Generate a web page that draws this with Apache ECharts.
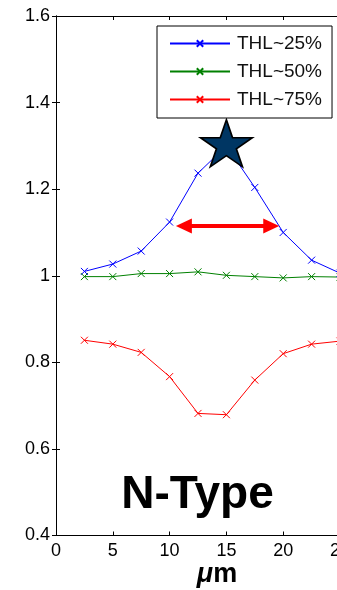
<!DOCTYPE html>
<html>
<head>
<meta charset="utf-8">
<script src="https://cdn.jsdelivr.net/npm/echarts@6/dist/echarts.min.js"></script>
<style>
  html, body { margin: 0; padding: 0; background: #fff; }
  #chart { width: 337px; height: 590px; }
</style>
</head>
<body>
<div id="chart"></div>
<script>
// Pixel positions across the detector (µm)
const positions = [2.5, 5, 7.5, 10, 12.5, 15, 17.5, 20, 22.5, 25];

// Normalised response for three threshold settings
const thl25 = [1.010, 1.027, 1.057, 1.124, 1.237, 1.300, 1.204, 1.100, 1.036, 1.006];
const thl50 = [0.998, 0.998, 1.005, 1.005, 1.009, 1.001, 0.998, 0.995, 0.998, 0.997];
const thl75 = [0.851, 0.842, 0.823, 0.767, 0.682, 0.679, 0.759, 0.820, 0.842, 0.849];

const seriesNames = ['THL~25%', 'THL~50%', 'THL~75%'];
const seriesColors = ['#0000ff', '#008000', '#ff0000'];

// Peak marker and width arrow (data coordinates)
const peakPoint = [15, 1.30];
const arrowTips = [10.55, 19.65];
const arrowLevel = 1.115;

// Axis ranges / ticks
const xMin = 0, xMax = 25, xStep = 5;
const yMin = 0.4, yMax = 1.6, yStep = 0.2;

const FONT = '"Liberation Sans", Arial, Helvetica, sans-serif';
const CROSS = 'path://M0,0L10,10M10,0L0,10';
const STAR = 'path://M50,0L61.23,34.55L97.55,34.55L68.17,55.9L79.39,90.45L50,69.1L20.61,90.45L31.83,55.9L2.45,34.55L38.77,34.55Z';

const gridLeft = 56, gridTop = 16, gridWidth = 284, gridHeight = 519.5;
const headLen = 16;
const inset = (headLen / 2) / (gridWidth / (xMax - xMin));

function lineSeries(name, values, color) {
  return {
    name: name,
    type: 'line',
    data: positions.map((x, i) => [x, values[i]]),
    symbol: CROSS,
    symbolSize: 7,
    showSymbol: true,
    lineStyle: { color: color, width: 1 },
    itemStyle: { color: color, borderColor: color, borderWidth: 1 },
    emphasis: { disabled: true },
    animation: false,
    z: 3
  };
}

const chart = echarts.init(document.getElementById('chart'), null, { renderer: 'canvas' });

const axisLine = { show: true, lineStyle: { color: '#000', width: 1 } };
const axisTick = { show: true, inside: true, length: 4, lineStyle: { color: '#000', width: 1 } };

chart.setOption({
  animation: false,
  backgroundColor: '#fff',
  grid: {
    left: gridLeft, top: gridTop, width: gridWidth, height: gridHeight,
    containLabel: false, outerBoundsMode: 'none'
  },
  xAxis: [
    {
      type: 'value', min: xMin, max: xMax, interval: xStep, position: 'bottom',
      axisLine: axisLine, axisTick: axisTick, splitLine: { show: false },
      axisLabel: { color: '#000', fontSize: 18, fontFamily: FONT, margin: 7 }
    },
    {
      type: 'value', min: xMin, max: xMax, interval: xStep, position: 'top',
      axisLine: axisLine, axisTick: axisTick, splitLine: { show: false },
      axisLabel: { show: false }
    }
  ],
  yAxis: [
    {
      type: 'value', min: yMin, max: yMax, interval: yStep, position: 'left',
      axisLine: axisLine, axisTick: axisTick, splitLine: { show: false },
      axisLabel: {
        color: '#000', fontSize: 18, fontFamily: FONT, margin: 6,
        formatter: v => String(+v.toFixed(1))
      }
    },
    {
      type: 'value', min: yMin, max: yMax, interval: yStep, position: 'right',
      axisLine: axisLine, axisTick: axisTick, splitLine: { show: false },
      axisLabel: { show: false }
    }
  ],
  legend: {
    data: seriesNames,
    orient: 'vertical',
    left: 157, top: 26,
    padding: [8, 10, 9, 12],
    itemWidth: 60, itemHeight: 8, itemGap: 9,
    backgroundColor: '#fff', borderColor: '#000', borderWidth: 1, borderRadius: 0,
    selectedMode: false,
    textStyle: { color: '#111', fontSize: 19, fontFamily: FONT, padding: [0, 0, 0, 2] },
    z: 10
  },
  series: [
    lineSeries(seriesNames[0], thl25, seriesColors[0]),
    lineSeries(seriesNames[1], thl50, seriesColors[1]),
    lineSeries(seriesNames[2], thl75, seriesColors[2]),
    {
      name: 'peak',
      type: 'scatter',
      data: [peakPoint],
      symbol: STAR,
      symbolSize: [52, 47],
      symbolOffset: [0, -2.6],
      itemStyle: { color: '#003663', opacity: 1, borderColor: '#000', borderWidth: 1.6 },
      emphasis: { disabled: true },
      silent: true,
      z: 5
    },
    {
      name: 'width',
      type: 'line',
      data: [],
      silent: true,
      z: 4,
      markLine: {
        silent: true,
        animation: false,
        symbol: ['triangle', 'triangle'],
        symbolSize: [15, headLen],
        label: { show: false },
        lineStyle: { color: '#ff0000', width: 4, type: 'solid', opacity: 1 },
        itemStyle: { color: '#ff0000' },
        emphasis: { disabled: true },
        data: [[
          { coord: [arrowTips[0] + inset, arrowLevel] },
          { coord: [arrowTips[1] - inset, arrowLevel] }
        ]]
      }
    }
  ],
  graphic: [
    {
      type: 'text',
      x: 197.5, y: 495,
      style: {
        text: 'N-Type',
        font: 'bold 46px ' + FONT,
        fill: '#000',
        align: 'center',
        verticalAlign: 'middle'
      },
      z: 6
    },
    {
      type: 'text',
      x: 217, y: 575,
      style: {
        text: '{mu|μ}{m|m}',
        align: 'center',
        verticalAlign: 'middle',
        fill: '#000',
        rich: {
          mu: { font: 'italic bold 27px ' + FONT, fill: '#000' },
          m: { font: 'bold 27px ' + FONT, fill: '#000' }
        }
      },
      z: 6
    }
  ]
});
</script>
</body>
</html>
